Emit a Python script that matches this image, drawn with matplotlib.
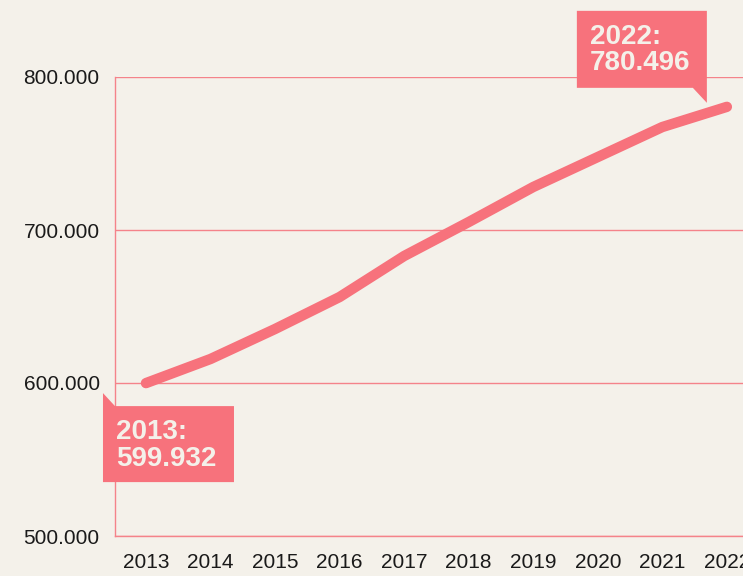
import matplotlib.pyplot as plt
from matplotlib.patches import Polygon
from matplotlib.transforms import Affine2D, ScaledTranslation

years = [2013, 2014, 2015, 2016, 2017, 2018, 2019, 2020, 2021, 2022]
values = [599.932, 615.7, 635.3, 656.2, 683.0, 705.2, 728.1, 747.7, 767.3, 780.496]
y_ticks = [500, 600, 700, 800]

bg = "#f4f1ea"
pink = "#f7727c"
grid_pink = "#f4838a"

plt.rcParams["font.family"] = ["Liberation Sans", "DejaVu Sans"]

fig = plt.figure(figsize=(7.43, 5.76), dpi=100, facecolor=bg)
ax = fig.add_axes([115 / 743, 40 / 576, 628 / 743, 459 / 576], facecolor=bg)

ax.plot(years, values, color=pink, lw=7.5, solid_capstyle="round", zorder=3)

ax.set_xlim(2012.52, 2022.25)
ax.set_ylim(500, 800)
ax.set_xticks(years)
ax.set_yticks(y_ticks)
ax.set_yticklabels([f"{v:.3f}" for v in y_ticks])
ax.tick_params(length=0, labelsize=15, colors="#1a1a1a")
ax.tick_params(axis="x", pad=12)
ax.tick_params(axis="y", pad=11)
ax.grid(axis="y", color=grid_pink, lw=1)
for s in ["top", "right"]:
    ax.spines[s].set_visible(False)
for s in ["left", "bottom"]:
    ax.spines[s].set_color(grid_pink)
    ax.spines[s].set_linewidth(1)


def callout(x, y, verts, text, tx, ty):
    # verts and text offsets are in pixels relative to the data point (y down)
    tr = Affine2D().scale(1 / 100, -1 / 100) + fig.dpi_scale_trans
    tr = tr + ScaledTranslation(x, y, ax.transData) - ScaledTranslation(0, 0, fig.dpi_scale_trans)
    poly = Polygon(verts, closed=True, transform=tr, facecolor=pink,
                   edgecolor="none", clip_on=False, zorder=5)
    ax.add_patch(poly)
    ax.annotate(text, (x, y), xytext=(tx * 0.72, -ty * 0.72), textcoords="offset points",
                ha="left", va="top", fontsize=20, fontweight="bold", color=bg,
                linespacing=1.02, zorder=6, annotation_clip=False)


callout(years[0], values[0],
        [(-43, 10), (-31, 23), (88, 23), (88, 99), (-43, 99)],
        f"{years[0]}:\n{values[0]:.3f}", -30, 36)
callout(years[-1], values[-1],
        [(-150, -96), (-20, -96), (-20, -4), (-34, -19), (-150, -19)],
        f"{years[-1]}:\n{values[-1]:.3f}", -137, -83)

fig.savefig("out.png", dpi=100, facecolor=bg)
